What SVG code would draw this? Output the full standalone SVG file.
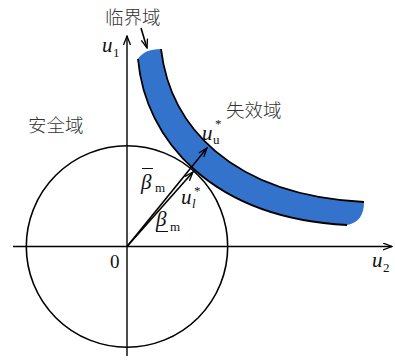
<svg xmlns="http://www.w3.org/2000/svg" width="395" height="360" viewBox="0 0 395 360">
<style>
.ax{stroke:#000;stroke-width:1.4;fill:none}
.ln{stroke:#000;stroke-width:1.6;fill:none}
.band{fill:#3473CB;stroke:none}
.edge{stroke:#000;stroke-width:1.8;fill:none}
.cjk{font-family:"Noto Sans CJK SC","Noto Sans",sans-serif;font-size:18.5px;fill:#333;font-weight:300}
.mi{font-family:"Liberation Serif",serif;font-style:italic;font-size:21px;fill:#111}
.sub{font-family:"Liberation Serif",serif;font-size:13px;fill:#111}
.num{font-family:"Liberation Serif",serif;font-size:19px;fill:#111}
</style>
<defs>
<marker id="ah" markerWidth="10" markerHeight="8" refX="9" refY="4" orient="auto" markerUnits="userSpaceOnUse">
<path d="M0,0.5 L9,4 L0,7.5" fill="none" stroke="#000" stroke-width="1.3"/>
</marker>
<marker id="ahs" markerWidth="10" markerHeight="8" refX="9" refY="4" orient="auto" markerUnits="userSpaceOnUse">
<path d="M0,0.8 L9,4 L0,7.2" fill="none" stroke="#000" stroke-width="1.3"/>
</marker>
</defs>
<g id="region-band">
<path class="band" d="M138,59 C145,140 212,218 347,225 Q364,222 364,202 C230,195 170,125 161,49 Q144,49 138,59 Z"/>
<path class="edge" d="M138,59 C145,140 212,218 347,225"/>
<path class="edge" d="M161,49 C170,125 230,195 364,202"/>
</g>
<g id="safe-circle">
<circle class="ln" cx="127" cy="246.5" r="100.7"/>
</g>
<g id="connectors">
<line class="ax" x1="13" y1="246.5" x2="392" y2="246.5" marker-end="url(#ah)"/>
<line class="ax" x1="127" y1="356" x2="127" y2="36" marker-end="url(#ah)"/>
<line class="ln" x1="127" y1="246.5" x2="207" y2="148" marker-end="url(#ahs)"/>
<line class="ln" x1="127" y1="246.5" x2="193" y2="172" marker-end="url(#ahs)"/>
<line class="ln" x1="141" y1="28" x2="147" y2="48" marker-end="url(#ahs)"/>
</g>
<g id="labels">
<text class="cjk" x="105" y="24">临界域</text>
<text class="cjk" x="28" y="132">安全域</text>
<text class="cjk" x="226" y="117">失效域</text>
<text class="mi" x="102" y="52">u</text><text class="sub" x="113" y="57">1</text>
<text class="mi" x="372" y="267">u</text><text class="sub" x="383" y="272">2</text>
<text class="num" x="110" y="268">0</text>
<g id="beta-upper">
<text class="mi" x="141" y="189">β</text>
<line x1="142" y1="168.5" x2="153" y2="168.5" stroke="#111" stroke-width="1"/>
<text class="sub" x="155" y="192">m</text>
</g>
<g id="beta-lower">
<text class="mi" x="156" y="226">β</text>
<line x1="156" y1="231.5" x2="168" y2="231.5" stroke="#111" stroke-width="1"/>
<text class="sub" x="170" y="231">m</text>
</g>
<g id="ul">
<text class="mi" x="181" y="204">u</text><text class="mi" style="font-size:13px" x="192" y="208">l</text><text class="sub" x="194" y="195">*</text>
</g>
<g id="uu">
<text class="mi" x="202" y="140">u</text><text class="sub" x="213" y="144">u</text><text class="sub" x="215" y="128">*</text>
</g>
</g>
</svg>
